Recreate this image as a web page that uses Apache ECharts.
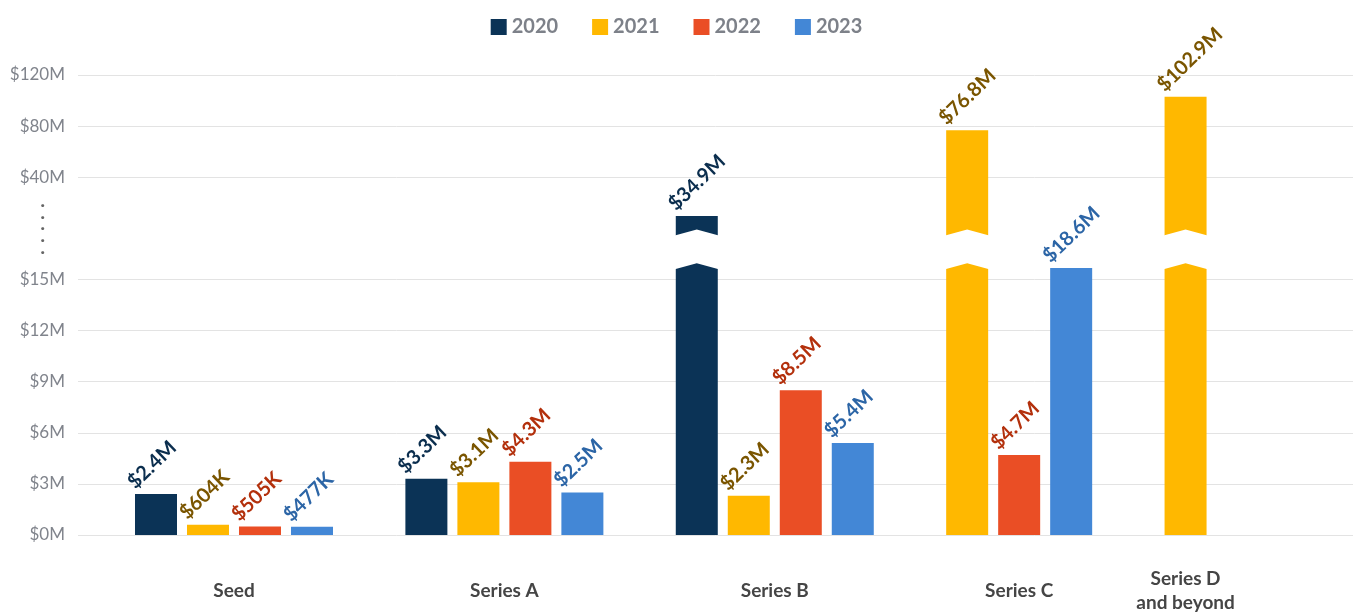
<!DOCTYPE html>
<html lang="en">
<head>
    <meta charset="UTF-8">
    <title>Funding by stage</title>
</head>
<body style="margin: 0">
<div id="main" style="width: 1353px; height: 615px"></div>

<script src="https://cdn.jsdelivr.net/npm/echarts@6/dist/echarts.min.js"></script>
<script type="text/javascript">

    var years = ['2020', '2021', '2022', '2023'];
    var stages = ['Seed', 'Series A', 'Series B', 'Series C', 'Series D\nand beyond'];
    // values in $M
    var v2020 = [2.4, 3.3, 34.9, null, null];
    var v2021 = [0.604, 3.1, 2.3, 76.8, 102.9];
    var v2022 = [0.505, 4.3, 8.5, 4.7, null];
    var v2023 = [0.477, 2.5, 5.4, 18.6, null];
    var yTicks = ['$0M', '$3M', '$6M', '$9M', '$12M', '$15M', '', '$40M', '$80M', '$120M'];

    var colors = ['#0b3356', '#ffb800', '#ea4e25', '#4387d6'];
    var labelColors = ['#0b2e4e', '#7a5500', '#b3300c', '#2c65a6'];
    var all = [v2020, v2021, v2022, v2023];

    // broken axis: 0-15M in 3M steps, squeezed middle, then 40M steps
    function toAxis(v) {
        if (v <= 15) return v / 3;
        if (v < 40) return 5 + (v - 15) / 16;
        return 7 + (v - 40) / 40;
    }
    var BRK = [5.2, 5.86];

    function money(v) {
        if (v < 1) return '$' + Math.round(v * 1000) + 'K';
        return '$' + v.toFixed(1) + 'M';
    }

    // bars packed per group, empty years take no room
    var GAP = 1.2;
    var pos = all.map(function () { return []; });
    var centers = [];
    var start = 0;
    stages.forEach(function (s, g) {
        var n = 0;
        all.forEach(function (arr, k) {
            if (arr[g] != null) { pos[k][g] = start + n; n++; }
        });
        centers.push(start + (n - 1) / 2);
        start += n + GAP;
    });

    var series = all.map(function (arr, k) {
        var data = [];
        arr.forEach(function (v, g) {
            if (v != null) data.push([pos[k][g], toAxis(v), v]);
        });
        return {
            name: years[k],
            type: 'bar',
            barWidth: 42,
            barGap: '-100%',
            itemStyle: {color: colors[k]},
            encode: {x: 0, y: 1},
            label: {
                show: true,
                position: [-4, -9],
                rotate: 44,
                align: 'left',
                verticalAlign: 'middle',
                color: labelColors[k],
                fontSize: 20,
                fontFamily: 'Lato',
                fontWeight: 'bold',
                formatter: function (p) { return money(p.value[2]); }
            },
            data: data
        };
    });

    var breaks = [];
    all.forEach(function (arr, k) {
        arr.forEach(function (v, g) {
            if (v != null && toAxis(v) > BRK[1]) breaks.push([pos[k][g], toAxis(v)]);
        });
    });
    series.push({
        type: 'custom',
        z: 10,
        silent: true,
        encode: {x: 0, y: 1},
        renderItem: function (params, api) {
            var lo = api.coord([api.value(0), BRK[0]]);
            var hi = api.coord([api.value(0), BRK[1]]);
            var c = lo[0], l = c - 22, r = c + 22;
            return {
                type: 'polygon',
                shape: {points: [[l, hi[1]], [c, hi[1] - 6], [r, hi[1]], [r, lo[1]], [c, lo[1] - 6], [l, lo[1]]]},
                style: {fill: '#fff'}
            };
        },
        data: breaks
    });

    var chart = echarts.init(document.getElementById('main'));
    chart.setOption({
        animation: false,
        legend: {
            data: years,
            top: 12,
            left: 'center',
            icon: 'rect',
            itemWidth: 16,
            itemHeight: 16,
            itemGap: 34,
            textStyle: {color: '#7d8189', fontSize: 20, fontFamily: 'Lato', fontWeight: 'bold'}
        },
        grid: {left: 78, right: 0, top: 75, bottom: 78},
        xAxis: {
            type: 'value',
            min: -1.5,
            max: 23.02,
            axisLine: {show: false},
            axisTick: {show: false},
            splitLine: {show: false},
            axisLabel: {
                customValues: centers,
                margin: 56,
                verticalAlign: 'middle',
                lineHeight: 24,
                color: '#454545',
                fontSize: 19,
                fontFamily: 'Lato',
                fontWeight: 'bold',
                formatter: function (val) {
                    for (var i = 0; i < centers.length; i++) {
                        if (Math.abs(centers[i] - val) < 1e-6) return stages[i];
                    }
                    return '';
                }
            }
        },
        yAxis: {
            type: 'value',
            min: 0,
            max: 9,
            interval: 1,
            axisLine: {show: false},
            axisTick: {show: false},
            axisLabel: {
                margin: 13,
                color: '#80848c',
                fontSize: 17,
                fontFamily: 'Lato',
                formatter: function (v) {
                    if (yTicks[v] === '') return '{d|·}\n{d|·}\n{d|·}\n{d|·}\n{d|·}';
                    return yTicks[v];
                },
                rich: {
                    d: {color: '#666', fontSize: 16, fontWeight: 'bold', lineHeight: 11.7, padding: [0, 20, 0, 0]}
                }
            },
            splitLine: {
                lineStyle: {
                    color: yTicks.map(function (t) { return t ? '#e3e3e3' : 'rgba(0,0,0,0)'; })
                }
            }
        },
        series: series
    });

</script>
</body>
</html>
